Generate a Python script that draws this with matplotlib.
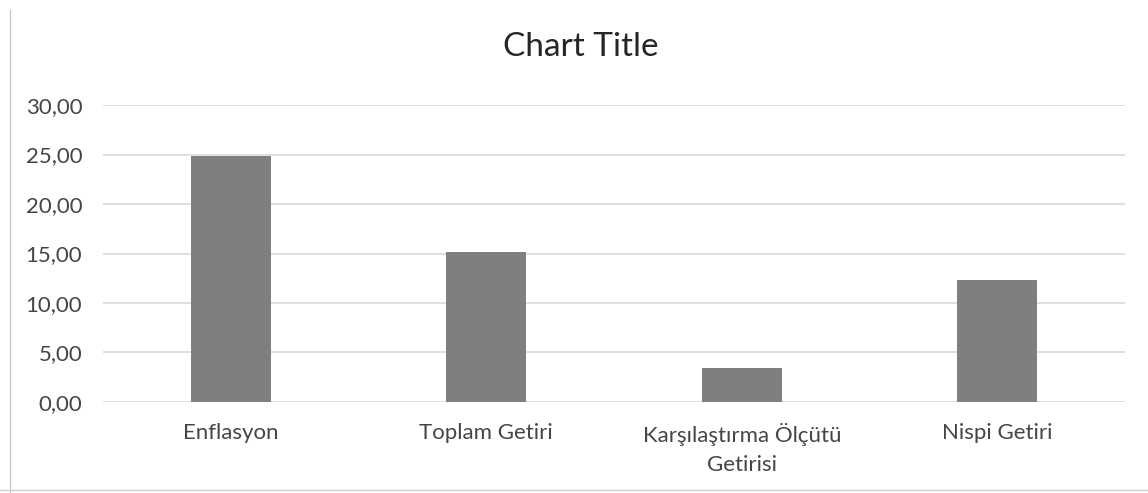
import matplotlib.pyplot as plt
from matplotlib.lines import Line2D

categories = ["Enflasyon", "Toplam Getiri", "Karşılaştırma Ölçütü\nGetirisi", "Nispi Getiri"]
values = [24.8, 15.2, 3.4, 12.3]
yticks = [0, 5, 10, 15, 20, 25, 30]
ytick_labels = ["0,00", "5,00", "10,00", "15,00", "20,00", "25,00", "30,00"]

plt.rcParams['font.family'] = ['Lato', 'DejaVu Sans']
text_color = '#454545'

fig = plt.figure(figsize=(11.48, 4.93), dpi=100)
ax = fig.add_axes([0.0897, 0.1846, 0.8903, 0.6024])

x = range(len(categories))
ax.bar(x, values, width=0.313, color='#7f7f7f', zorder=3)

ax.set_xlim(-0.5, len(categories) - 0.5)
ax.set_ylim(0, 30)
ax.set_yticks(yticks)
ax.set_yticklabels(ytick_labels, fontsize=16, color=text_color)
ax.set_xticks(list(x))
ax.set_xticklabels(categories, fontsize=16, color=text_color, linespacing=1.55)
ax.tick_params(axis='y', length=0, pad=15)
ax.tick_params(axis='x', length=0, pad=15)

ax.grid(axis='y', color='#d9d9d9', linewidth=1.2, zorder=0)
for s in ax.spines.values():
    s.set_visible(False)

fig.text(0.506, 0.905, "Chart Title", fontsize=24, color='#262626',
         ha='center', va='center')

# faint frame edges from the original page
fig.add_artist(Line2D([0.009, 0.009], [0.0, 0.98], color='#c8c8c8', linewidth=1))
fig.add_artist(Line2D([0.0, 1.0], [0.006, 0.006], color='#d0d0d0', linewidth=1))

fig.savefig("out.png", dpi=100)
